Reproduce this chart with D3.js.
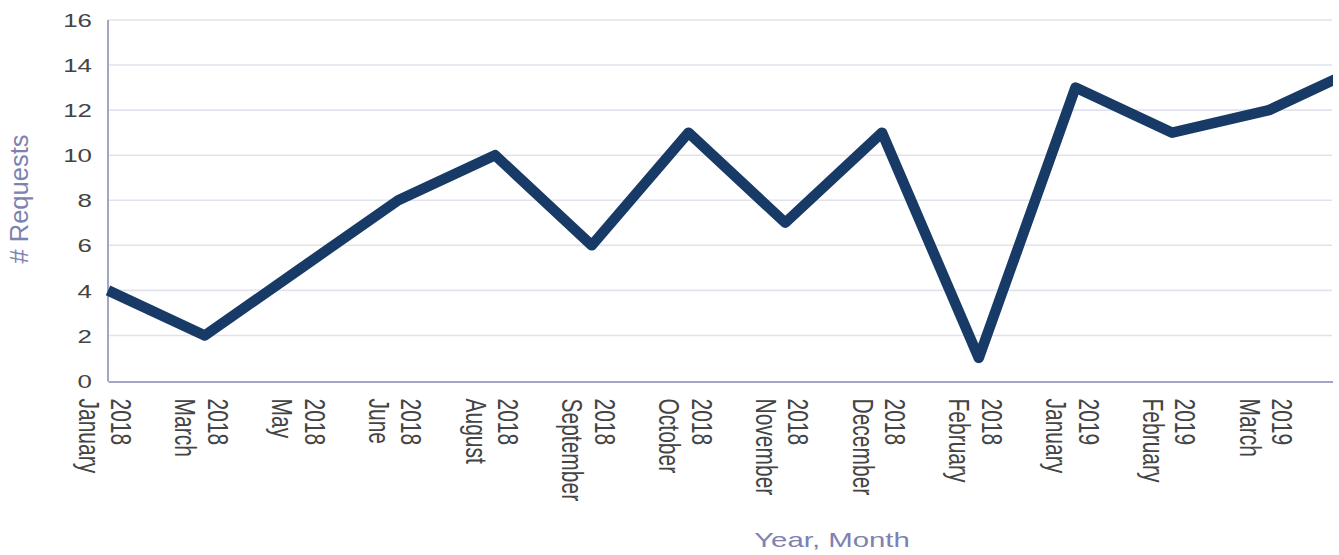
<!DOCTYPE html>
<html>
<head>
<meta charset="utf-8">
<script src="https://cdn.jsdelivr.net/npm/d3@7"></script>
<style>
  html, body { margin: 0; padding: 0; background: #fff; }
  svg { display: block; font-family: "Liberation Sans", Arial, sans-serif; }
</style>
</head>
<body>
<svg id="chart" width="1339" height="555"></svg>
<script>
// values; the last point runs past the right edge
const months = ["January", "March", "May", "June", "August", "September", "October",
    "November", "December", "February", "January", "February", "March", "April"];
const years = ["2018", "2018", "2018", "2018", "2018", "2018", "2018",
    "2018", "2018", "2018", "2019", "2019", "2019", "2019"];
const requests = [4, 2, 5, 8, 10, 6, 11, 7, 11, 1, 13, 11, 12, 14];
const yTicks = [0, 2, 4, 6, 8, 10, 12, 14, 16];

const margins = {left: 108, top: 20, bottom: 175, right: 7};
const width = 1339;
const height = 555;
const stepX = 96.75;
const stretch = 1.4; // source text is wider than it is tall

const svg = d3.select("#chart");

const scaleX = d3.scalePoint()
    .domain(d3.range(months.length))
    .range([margins.left, margins.left + stepX * (months.length - 1)]);

const scaleY = d3.scaleLinear()
    .domain([0, 16])
    .range([height - margins.bottom + 0.5, margins.top]);

const plotRight = width - margins.right;

svg.append("defs").append("clipPath")
    .attr("id", "clip")
    .append("rect")
    .attr("x", 0)
    .attr("y", 0)
    .attr("width", plotRight + 1)
    .attr("height", height);

const chart = svg.append("g").attr("clip-path", "url(#clip)");

// grid
chart.append("g")
    .selectAll("line")
    .data(yTicks.filter(d => d > 0))
    .enter()
    .append("line")
    .attr("x1", margins.left)
    .attr("x2", plotRight)
    .attr("y1", d => scaleY(d))
    .attr("y2", d => scaleY(d))
    .style("stroke", "#e2e2ec")
    .style("stroke-width", 1.6);

// y axis
const yAxis = chart.append("g")
    .attr("transform", `translate(${margins.left}, 0)`)
    .call(d3.axisLeft(scaleY).tickValues(yTicks).tickSize(0).tickPadding(0));

yAxis.select(".domain").remove();
yAxis.selectAll("text")
    .attr("x", -16 / stretch)
    .attr("dy", "0.36em")
    .attr("transform", `scale(${stretch}, 1)`)
    .style("font-size", "18.5px")
    .style("font-family", "Liberation Sans, Arial, sans-serif")
    .style("fill", "#444");

chart.append("line")
    .attr("x1", margins.left)
    .attr("x2", margins.left)
    .attr("y1", scaleY(16))
    .attr("y2", scaleY(0) + 1)
    .style("stroke", "#a3a5c6")
    .style("stroke-width", 2);

// x axis
const xAxis = chart.append("g")
    .attr("transform", `translate(0, ${scaleY(0) + 1})`)
    .call(d3.axisBottom(scaleX).tickSize(0).tickFormat(""));

xAxis.select(".domain")
    .style("stroke", "#a3a5c6")
    .style("stroke-width", 2);

// labels only for ticks that fall inside the plot
const labels = xAxis.selectAll(".tick")
    .filter(i => scaleX(i) <= plotRight)
    .append("text")
    .attr("transform", `translate(-2, 17) scale(${stretch}, 1) rotate(90)`)
    .attr("text-anchor", "start")
    .style("font-size", "21px")
    .style("font-family", "Liberation Sans, Arial, sans-serif")
    .style("fill", "#444");

labels.append("tspan")
    .attr("x", 0)
    .attr("y", -3.3)
    .text(i => years[i]);

labels.append("tspan")
    .attr("x", 0)
    .attr("y", 19.9)
    .text(i => months[i]);

// line
const line = d3.line()
    .x((d, i) => scaleX(i))
    .y(d => scaleY(d));

chart.append("path")
    .datum(requests)
    .attr("d", line)
    .style("fill", "none")
    .style("stroke", "#173a66")
    .style("stroke-width", 10.5)
    .style("stroke-linejoin", "round")
    .style("stroke-linecap", "butt");

// titles
svg.append("text")
    .attr("transform", "translate(28, 199) rotate(-90)")
    .attr("text-anchor", "middle")
    .style("font-size", "25.5px")
    .style("fill", "#7d82b0")
    .text("# Requests");

svg.append("text")
    .attr("transform", `translate(832, 547) scale(${stretch}, 1)`)
    .attr("text-anchor", "middle")
    .style("font-size", "21px")
    .style("fill", "#7d82b0")
    .text("Year, Month");
</script>
</body>
</html>
